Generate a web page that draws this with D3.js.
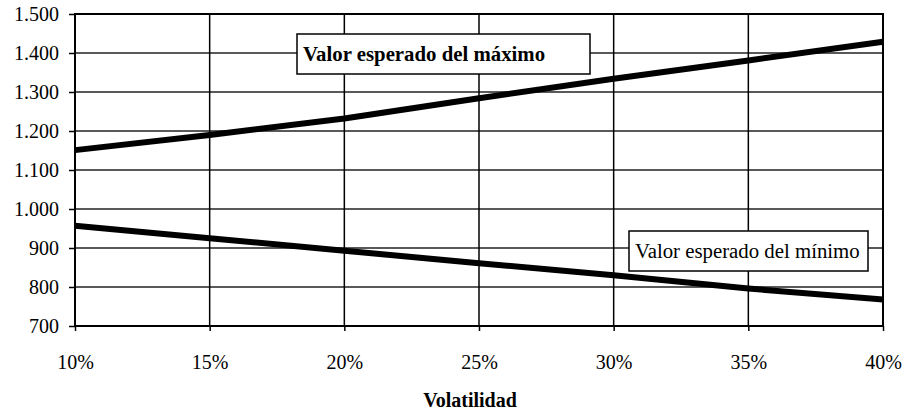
<!DOCTYPE html>
<html>
<head>
<meta charset="utf-8">
<script src="https://cdn.jsdelivr.net/npm/d3@7"></script>
<style>
  html, body { margin: 0; padding: 0; background: #fff; }
  svg { display: block; font-family: "Liberation Serif", "Times New Roman", serif; }
</style>
</head>
<body>
<svg id="chart" width="905" height="414"></svg>
<script>
// volatility (x) and expected max / min values
const volatility = [0.10, 0.15, 0.20, 0.25, 0.30, 0.35, 0.40];
const expectedMax = [1151, 1190, 1232, 1284, 1334, 1381, 1429];
const expectedMin = [957, 925, 893, 861, 830, 796, 768];
const yTicks = [700, 800, 900, 1000, 1100, 1200, 1300, 1400, 1500];
const xLabel = 'Volatilidad';
const maxLabel = 'Valor esperado del máximo';
const minLabel = 'Valor esperado del mínimo';

(function () {
  const W = 905, H = 414;
  const m = { top: 14, right: 22, bottom: 88, left: 75 };
  const FS = 20;

  const svg = d3.select('#chart');
  const g = svg.append('g').attr('transform', `translate(${m.left},${m.top})`);
  const iw = W - m.left - m.right;
  const ih = H - m.top - m.bottom;

  const x = d3.scaleLinear().domain([0.10, 0.40]).range([0, iw]);
  const y = d3.scaleLinear().domain([700, 1500]).range([ih, 0]);

  const es = d3.formatLocale({ decimal: ',', thousands: '.', grouping: [3], currency: ['', '€'] });
  const fmtY = es.format(',');
  const fmtX = d3.format('.0%');

  // horizontal gridlines
  g.append('g').selectAll('line').data(yTicks).join('line')
    .attr('x1', 0).attr('x2', iw)
    .attr('y1', d => y(d)).attr('y2', d => y(d))
    .attr('stroke', '#222').attr('stroke-width', 1.5);

  // vertical gridlines
  g.append('g').selectAll('line').data(volatility).join('line')
    .attr('x1', d => x(d)).attr('x2', d => x(d))
    .attr('y1', 0).attr('y2', ih)
    .attr('stroke', '#000').attr('stroke-width', 1.5);

  // y axis
  const yAxis = g.append('g')
    .call(d3.axisLeft(y).tickValues(yTicks).tickFormat(fmtY).tickSize(6).tickPadding(10));
  yAxis.select('.domain').remove();
  yAxis.selectAll('line').attr('stroke', '#000').attr('stroke-width', 1.5);
  yAxis.selectAll('text').attr('font-size', FS).attr('fill', '#000')
    .attr('font-family', '"Liberation Serif", serif');

  // x axis
  const xAxis = g.append('g').attr('transform', `translate(0,${ih})`)
    .call(d3.axisBottom(x).tickValues(volatility).tickFormat(fmtX).tickSize(5).tickPadding(24));
  xAxis.select('.domain').remove();
  xAxis.selectAll('line').attr('stroke', '#000').attr('stroke-width', 1.5);
  xAxis.selectAll('text').attr('font-size', FS).attr('fill', '#000')
    .attr('font-family', '"Liberation Serif", serif');

  // plot border
  g.append('rect').attr('x', 0).attr('y', 0).attr('width', iw).attr('height', ih)
    .attr('fill', 'none').attr('stroke', '#000').attr('stroke-width', 2);

  // series lines
  const line = d3.line().x(d => x(d[0])).y(d => y(d[1]));
  [expectedMax, expectedMin].forEach(vals => {
    g.append('path')
      .datum(volatility.map((v, i) => [v, vals[i]]))
      .attr('d', line)
      .attr('fill', 'none')
      .attr('stroke', '#000')
      .attr('stroke-width', 6)
      .attr('stroke-linejoin', 'round');
  });

  // label boxes
  function labelBox(text, bx, by, bw, bh, bold) {
    svg.append('rect').attr('x', bx).attr('y', by).attr('width', bw).attr('height', bh)
      .attr('fill', '#fff').attr('stroke', '#000').attr('stroke-width', 1.5);
    svg.append('text').attr('x', bx + 6).attr('y', by + bh / 2).attr('dy', '0.35em')
      .attr('font-size', 20.8).attr('font-weight', bold ? 'bold' : 'normal')
      .attr('fill', '#000').text(text);
  }
  labelBox(maxLabel, 297, 34, 293, 40, true);
  labelBox(minLabel, 629, 231, 239, 40, false);

  // x axis title
  svg.append('text')
    .attr('x', 470).attr('y', 407)
    .attr('text-anchor', 'middle')
    .attr('font-size', FS).attr('font-weight', 'bold')
    .text(xLabel);
})();
</script>
</body>
</html>
